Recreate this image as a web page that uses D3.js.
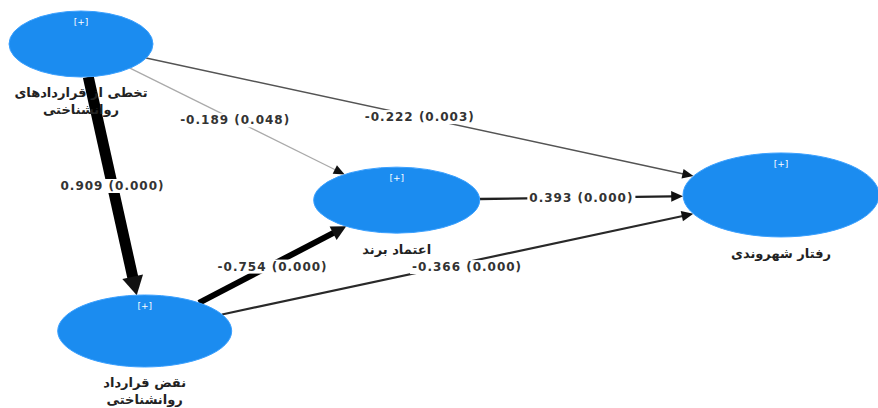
<!DOCTYPE html>
<html>
<head>
<meta charset="utf-8">
<script src="https://cdn.jsdelivr.net/npm/d3@7"></script>
<style>
  body { margin: 0; background: #fff; }
  .coef { font-family: "DejaVu Sans", sans-serif; font-weight: bold; font-size: 12px; letter-spacing: 1px; fill: #333; }
  .name { font-family: "DejaVu Sans", sans-serif; font-weight: bold; font-size: 13px; fill: #222; }
  .plus { font-family: "DejaVu Sans", sans-serif; font-size: 9px; fill: #fff; }
</style>
</head>
<body>
<div id="viz"></div>
<script>
const W = 878, H = 408;

// constructs (Persian names, two-line where needed)
const constructs = ["violation", "breach", "trust", "citizenship"];
const constructNames = {
  violation: ["تخطی از قراردادهای", "روانشناختی"],
  breach: ["نقض قرارداد", "روانشناختی"],
  trust: ["اعتماد برند"],
  citizenship: ["رفتار شهروندی"]
};

// path model
const pathFrom = ["violation", "violation", "violation", "trust", "breach", "breach"];
const pathTo   = ["breach", "trust", "citizenship", "citizenship", "trust", "citizenship"];
const pathCoef = [0.909, -0.189, -0.222, 0.393, -0.754, -0.366];
const pathP    = [0.000, 0.048, 0.003, 0.000, 0.000, 0.000];

// layout grid (relative units) and node sizes
const layout = {
  violation:   { gx: 0.0,   gy: 0.0,   rx: 72, ry: 33 },
  breach:      { gx: 0.091, gy: 1.0,   rx: 87, ry: 36 },
  trust:       { gx: 0.451, gy: 0.544, rx: 83, ry: 33 },
  citizenship: { gx: 1.0,   gy: 0.526, rx: 98, ry: 42 }
};
// label position along each path (fraction) and small vertical nudge
const labelAt = [0.5, 0.49, 0.5, 0.5, 0.5, 0.52];
const labelDy = [0, 0, 0, 0, 2, 5];

const x = d3.scaleLinear().domain([0, 1]).range([81, 781]);
const y = d3.scaleLinear().domain([0, 1]).range([44, 331]);

const svg = d3.select("#viz").append("svg").attr("width", W).attr("height", H);

const pos = {};
constructs.forEach(c => {
  pos[c] = { x: x(layout[c].gx), y: y(layout[c].gy), rx: layout[c].rx, ry: layout[c].ry };
});

// point on ellipse boundary in direction of (dx,dy)
function boundary(n, dx, dy) {
  const t = 1 / Math.sqrt((dx * dx) / (n.rx * n.rx) + (dy * dy) / (n.ry * n.ry));
  return { x: n.x + dx * t, y: n.y + dy * t };
}

const width = d3.scaleLinear().domain([0.189, 0.393, 0.754, 0.909]).range([1.3, 2.3, 6, 11]);
const colour = d3.scaleLinear().domain([0.19, 0.22, 0.5]).range(["#aaa", "#555", "#000"]).clamp(true);

const links = pathFrom.map((f, i) => {
  const a = pos[f], b = pos[pathTo[i]];
  const dx = b.x - a.x, dy = b.y - a.y;
  const s = boundary(a, dx, dy);
  const e = boundary(b, -dx, -dy);
  return { s, e, coef: pathCoef[i], p: pathP[i], t: labelAt[i], dy: labelDy[i] };
});

const gLinks = svg.append("g");
links.forEach(l => {
  const w = width(Math.abs(l.coef));
  const len = Math.hypot(l.e.x - l.s.x, l.e.y - l.s.y);
  const ux = (l.e.x - l.s.x) / len, uy = (l.e.y - l.s.y) / len;
  const head = 10 + w * 0.8, half = 4 + w * 0.6;
  const bx = l.e.x - ux * head, by = l.e.y - uy * head;
  gLinks.append("line")
    .attr("x1", l.s.x).attr("y1", l.s.y)
    .attr("x2", bx + ux * 1).attr("y2", by + uy * 1)
    .attr("stroke", colour(Math.abs(l.coef)))
    .attr("stroke-width", w);
  gLinks.append("path")
    .attr("d", "M" + l.e.x + "," + l.e.y +
      "L" + (bx - uy * half) + "," + (by + ux * half) +
      "L" + (bx + uy * half) + "," + (by - ux * half) + "Z")
    .attr("fill", "#111");
});

// nodes
const gNodes = svg.append("g");
constructs.forEach(c => {
  const n = pos[c];
  gNodes.append("ellipse")
    .attr("cx", n.x).attr("cy", n.y).attr("rx", n.rx).attr("ry", n.ry)
    .attr("fill", "#1b8cf0").attr("stroke", "#3aa0ff").attr("stroke-width", 1);
  gNodes.append("text").attr("class", "plus")
    .attr("x", n.x).attr("y", n.y - n.ry + 14)
    .attr("text-anchor", "middle").text("[+]");
  const lines = constructNames[c];
  lines.forEach((txt, k) => {
    gNodes.append("text").attr("class", "name")
      .attr("x", n.x).attr("y", n.y + n.ry + (lines.length > 1 ? 20 : 21) + k * 17)
      .attr("text-anchor", "middle").attr("direction", "rtl")
      .text(txt);
  });
});

// coefficient labels
const gLab = svg.append("g");
const fmt = d3.formatLocale({ decimal: ".", thousands: ",", grouping: [3], currency: ["", ""], minus: "-" }).format(".3f");
links.forEach(l => {
  const px = l.s.x + (l.e.x - l.s.x) * l.t;
  const py = l.s.y + (l.e.y - l.s.y) * l.t + l.dy;
  const label = fmt(l.coef) + " (" + fmt(l.p) + ")";
  const t = gLab.append("text").attr("class", "coef")
    .attr("x", px).attr("y", py + 4).attr("text-anchor", "middle").text(label);
  const bb = t.node().getBBox();
  gLab.insert("rect", "text")
    .attr("x", bb.x - 2).attr("y", bb.y).attr("width", bb.width + 4).attr("height", bb.height)
    .attr("fill", "#fff");
});
</script>
</body>
</html>
